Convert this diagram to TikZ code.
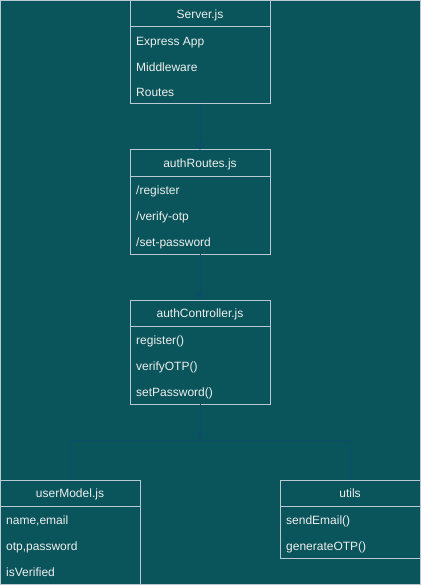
\documentclass[tikz,border=0pt]{standalone}
\usepackage{fontspec}
\setmainfont{Liberation Sans}
\usetikzlibrary{arrows.meta}
\definecolor{bgteal}{HTML}{09555B}
\definecolor{edgegray}{HTML}{BAC8D3}
\definecolor{txt}{HTML}{EEEEEE}
\definecolor{connblue}{HTML}{0B4D6A}
\tikzset{
  box/.style={draw=edgegray, line width=1pt, fill=bgteal, minimum width=140pt, anchor=north west, inner sep=0pt, outer sep=0pt},
  hdr/.style={text=txt, font=\fontsize{12}{14}\selectfont, anchor=base, inner sep=0pt},
  item/.style={text=txt, font=\fontsize{12}{14}\selectfont, anchor=base west, inner sep=0pt},
  conn/.style={draw=connblue, line width=1pt, -{Stealth[length=8pt,width=7pt]}},
  plain/.style={draw=connblue, line width=1pt},
}
\begin{document}
\begin{tikzpicture}[x=1pt,y=-1pt]
\useasboundingbox (0,0) rectangle (421,588);
\fill[white] (0,0) rectangle (421,588);
\node[draw=edgegray, line width=1pt, fill=bgteal, anchor=north west, minimum width=420pt, minimum height=584pt, inner sep=0pt, outer sep=0pt] (frame) at (0.5,0.5) {};

% Server.js
\node[box, minimum height=103pt] (server) at (130,1) {};
\draw[edgegray, line width=1pt] (130,27) -- (270,27);
\node[hdr] (serverT) at (200,18.5) {Server.js};
\node[item] (s1) at (136,45.5) {Express App};
\node[item] (s2) at (136,71.5) {Middleware};
\node[item] (s3) at (136,96.5) {Routes};

% authRoutes.js
\node[box, minimum height=104pt] (routes) at (130,150) {};
\draw[edgegray, line width=1pt] (130,176) -- (270,176);
\node[hdr] (routesT) at (200,167.5) {authRoutes.js};
\node[item] (r1) at (136,194.5) {/register};
\node[item] (r2) at (136,220.5) {/verify-otp};
\node[item] (r3) at (136,246.5) {/set-password};

% authController.js
\node[box, minimum height=104pt] (ctrl) at (130,300) {};
\draw[edgegray, line width=1pt] (130,326) -- (270,326);
\node[hdr] (ctrlT) at (200,317.5) {authController.js};
\node[item] (c1) at (136,344.5) {register()};
\node[item] (c2) at (136,370.5) {verifyOTP()};
\node[item] (c3) at (136,396.5) {setPassword()};

% userModel.js
\node[box, minimum height=104pt] (user) at (0.5,480) {};
\draw[edgegray, line width=1pt] (0.5,506) -- (140.5,506);
\node[hdr] (userT) at (70,497.5) {userModel.js};
\node[item] (u1) at (6,524.5) {name,email};
\node[item] (u2) at (6,550.5) {otp,password};
\node[item] (u3) at (6,576.5) {isVerified};

% utils
\node[box, minimum height=78pt] (utils) at (280,480) {};
\draw[edgegray, line width=1pt] (280,506) -- (420,506);
\node[hdr] (utilsT) at (350,497.5) {utils};
\node[item] (t1) at (286,524.5) {sendEmail()};
\node[item] (t2) at (286,550.5) {generateOTP()};

% connectors
\coordinate (junc) at (200,440);
\draw[conn] (server.south) -- (routes.north);
\draw[conn] (routes.south) -- (ctrl.north);
\draw[conn] (ctrl.south) -- (junc);
\draw[plain] (junc) -| (user.north);
\draw[plain] (junc) -| (utils.north);
\end{tikzpicture}
\end{document}
